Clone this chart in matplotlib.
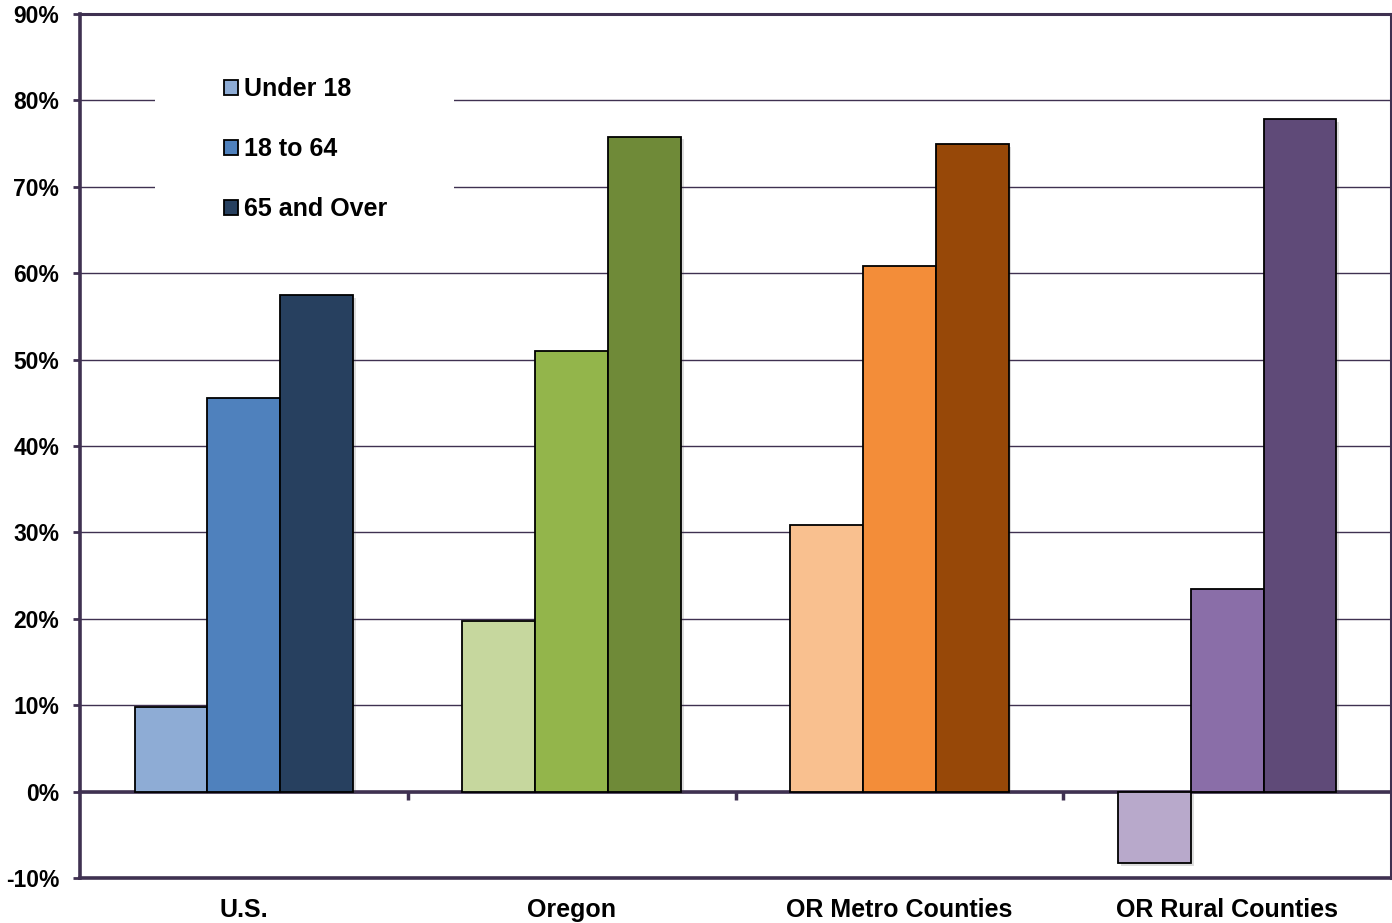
import matplotlib
matplotlib.use("Agg")
import matplotlib.pyplot as plt
import matplotlib.patheffects as pe
from matplotlib.patches import Patch, Rectangle
import numpy as np

plt.rcParams['font.family'] = ['Liberation Sans', 'DejaVu Sans']

# Population growth by age group
regions = ["U.S.", "Oregon", "OR Metro Counties", "OR Rural Counties"]
age_groups = ["Under 18", "18 to 64", "65 and Over"]
under_18 = [9.8, 19.7, 30.9, -8.3]
age_18_64 = [45.5, 51.0, 60.8, 23.4]
age_65_over = [57.5, 75.8, 74.9, 77.8]
y_ticks = [-10, 0, 10, 20, 30, 40, 50, 60, 70, 80, 90]

# colour shades per region: light, medium, dark
region_colors = [
    ["#8EACD5", "#4F81BD", "#27405F"],
    ["#C6D79E", "#93B54B", "#6F8A38"],
    ["#F9C08F", "#F38D39", "#974808"],
    ["#B8A9CB", "#8A6EA8", "#5F4A78"],
]

axis_color = "#3F3151"

fig = plt.figure(figsize=(13.92, 9.23), dpi=100)
ax = fig.add_axes([80 / 1392, 45 / 923, 1311 / 1392, 864 / 923])

x = np.arange(len(regions))
width = 0.222
series = [under_18, age_18_64, age_65_over]
shadow = [pe.SimplePatchShadow(offset=(2, -2), alpha=0.18, shadow_rgbFace="#444444"), pe.Normal()]
for k, vals in enumerate(series):
    offs = (k - 1) * width
    bars = ax.bar(x + offs, vals, width,
                  color=[region_colors[i][k] for i in range(len(regions))],
                  edgecolor="black", linewidth=1.3, zorder=4)
    for b in bars:
        b.set_path_effects(shadow)

ax.set_xlim(-0.5, len(regions) - 0.5)
ax.set_ylim(y_ticks[0], y_ticks[-1])
ax.set_yticks(y_ticks)
ax.set_yticklabels([f"{v}%" for v in y_ticks])
ax.set_xticks(x)
ax.set_xticklabels(regions)

ax.yaxis.grid(True, color=axis_color, linewidth=1.0, zorder=1)
ax.set_axisbelow(True)

for side in ["left", "bottom", "top", "right"]:
    ax.spines[side].set_color(axis_color)
    ax.spines[side].set_linewidth(2.6)
ax.spines["top"].set_linewidth(2.2)
ax.spines["right"].set_linewidth(2.2)

ax.tick_params(axis="y", direction="out", length=5, width=2, color=axis_color,
               labelsize=16.5, pad=10)
ax.tick_params(axis="x", length=0, labelsize=18, pad=14.5)
for lbl in ax.get_xticklabels() + ax.get_yticklabels():
    lbl.set_fontweight("bold")

# zero baseline with category separators
zero_axis = ax.secondary_xaxis(0.1)
zero_axis.spines["bottom"].set_color(axis_color)
zero_axis.spines["bottom"].set_linewidth(2.6)
zero_axis.set_xticks(np.arange(len(regions) - 1) + 0.5)
zero_axis.set_xticklabels([])
zero_axis.tick_params(direction="out", length=6, width=2.5, color=axis_color)
zero_axis.set_zorder(3)

# legend background panel
ax.add_patch(Rectangle((0.0573, 0.73), 0.228, 0.25, transform=ax.transAxes,
                       facecolor="white", edgecolor="none", zorder=2))

handles = [Patch(facecolor=c, edgecolor="black", linewidth=1.3) for c in region_colors[0]]
leg = ax.legend(handles, age_groups, loc="upper left",
                bbox_to_anchor=(134 / 1311, (878 - 67) / 864),
                frameon=False, prop={"size": 18, "weight": "bold"},
                handlelength=0.55, handleheight=0.55, handletextpad=0.25,
                labelspacing=1.45, borderaxespad=0)
leg.set_zorder(5)

fig.savefig("out.png", dpi=100)
